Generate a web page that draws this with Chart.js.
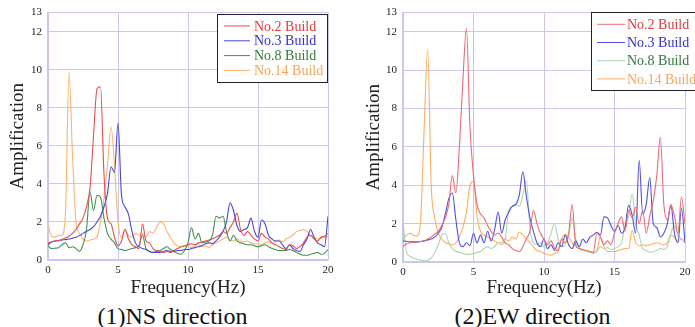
<!DOCTYPE html>
<html>
<head>
<meta charset="utf-8">
<script src="https://cdn.jsdelivr.net/npm/chart.js@4.4.0/dist/chart.umd.min.js"></script>
<style>
body { margin: 0; background: #fff; width: 695px; height: 327px; overflow: hidden; position: relative; font-family: "Liberation Serif", serif; }
.panel { position: absolute; top: 0; width: 345px; height: 300px; }
.caption { position: absolute; top: 304px; width: 345px; font-size: 24px; line-height: 24px; color: #111; text-align: center; }
</style>
</head>
<body>
<div class="panel" style="left:0"><canvas id="nsChart"></canvas></div>
<div class="panel" style="left:350px"><canvas id="ewChart"></canvas></div>
<div class="caption" style="left:0">(1)NS direction</div>
<div class="caption" style="left:360px">(2)EW direction</div>
<script>
// frequency grid (Hz)
const freq = [
  0, 0.25, 0.5, 0.75, 1, 1.25, 1.5, 1.75, 2, 2.25, 2.5, 2.75, 3, 3.25, 3.5, 3.75,
  4, 4.25, 4.5, 4.75, 5, 5.25, 5.5, 5.75, 6, 6.25, 6.5, 6.75, 7, 7.25, 7.5, 7.75,
  8, 8.25, 8.5, 8.75, 9, 9.25, 9.5, 9.75, 10, 10.25, 10.5, 10.75, 11, 11.25, 11.5, 11.75,
  12, 12.25, 12.5, 12.75, 13, 13.25, 13.5, 13.75, 14, 14.25, 14.5, 14.75, 15, 15.25, 15.5, 15.75,
  16, 16.25, 16.5, 16.75, 17, 17.25, 17.5, 17.75, 18, 18.25, 18.5, 18.75, 19, 19.25, 19.5, 19.75,
  20
];
const yTicks = [0, 2, 4, 6, 8, 10, 12, 13];
const builds = ['No.2 Build', 'No.3 Build', 'No.8 Build', 'No.14 Build'];

// (1) NS direction
const ns2 = [
  0.90, 0.95, 1.00, 1.02, 1.08, 1.15, 1.25, 1.40, 1.60, 1.90, 2.20, 2.80, 3.80, 6.50, 9.00, 9.10,
  4.50, 2.20, 1.90, 1.20, 0.75, 1.00, 1.60, 1.10, 0.80, 0.70, 0.60, 1.90, 1.00, 0.90, 0.60, 0.50,
  0.45, 0.40, 0.45, 0.40, 0.50, 0.60, 0.70, 0.75, 0.80, 0.85, 0.80, 0.90, 0.95, 1.00, 1.05, 1.10,
  1.20, 1.30, 1.50, 1.40, 1.70, 2.00, 2.45, 1.60, 1.30, 1.50, 1.30, 1.10, 1.00, 1.40, 1.20, 1.10,
  0.90, 0.80, 0.70, 0.60, 0.55, 0.80, 0.75, 0.60, 0.70, 0.90, 1.20, 1.30, 1.10, 1.00, 1.20, 1.25,
  1.40
];
const ns3 = [
  0.80, 0.95, 1.00, 1.02, 1.05, 1.07, 1.10, 1.15, 1.20, 1.28, 1.40, 1.50, 1.60, 1.75, 2.00, 2.30,
  2.80, 3.50, 4.90, 4.60, 7.20, 3.40, 2.80, 2.40, 1.50, 0.90, 0.70, 0.60, 0.55, 0.45, 0.40, 0.40,
  0.40, 0.45, 0.50, 0.45, 0.45, 0.50, 0.50, 0.55, 0.55, 0.60, 0.65, 0.70, 0.75, 0.85, 0.90, 0.85,
  1.00, 1.20, 1.50, 2.00, 3.00, 2.60, 1.80, 1.50, 1.60, 1.70, 2.20, 1.50, 1.20, 2.10, 1.90, 1.30,
  1.10, 1.00, 1.00, 0.80, 0.60, 0.80, 0.60, 0.50, 0.45, 0.80, 1.10, 1.60, 1.20, 0.90, 0.80, 0.70,
  2.30
];
const ns8 = [
  0.75, 0.60, 0.62, 0.65, 0.80, 0.90, 0.65, 0.70, 0.60, 0.45, 0.80, 1.60, 3.60, 2.60, 3.40, 3.30,
  2.20, 1.40, 1.10, 0.90, 0.60, 0.55, 0.50, 0.55, 0.60, 0.65, 0.75, 1.30, 0.60, 0.45, 0.40, 0.45,
  0.50, 0.60, 0.70, 0.55, 0.45, 0.35, 0.30, 0.50, 0.90, 1.70, 1.10, 1.40, 0.90, 0.95, 1.00, 1.30,
  2.30, 2.20, 2.30, 1.50, 1.00, 1.30, 1.00, 0.90, 0.85, 0.80, 0.80, 0.75, 0.70, 0.75, 0.80, 0.70,
  0.60, 0.55, 0.50, 0.50, 0.50, 0.55, 0.50, 0.40, 0.30, 0.25, 0.25, 0.30, 0.35, 0.40, 0.30, 0.35,
  0.55
];
const ns14 = [
  1.85, 1.25, 1.20, 1.30, 1.30, 2.50, 9.90, 5.50, 2.00, 1.40, 1.10, 1.00, 1.05, 1.10, 1.20, 2.00,
  3.20, 5.00, 7.00, 5.00, 2.00, 1.20, 1.60, 1.30, 1.20, 1.40, 1.30, 1.40, 1.20, 1.50, 1.40, 1.70,
  2.00, 1.90, 1.50, 1.20, 0.90, 0.75, 0.70, 0.75, 0.70, 0.65, 0.75, 0.85, 0.70, 0.75, 0.65, 0.80,
  0.90, 1.00, 1.10, 1.20, 1.05, 1.00, 1.10, 1.00, 0.95, 1.00, 0.90, 0.85, 0.85, 0.80, 0.90, 0.95,
  0.85, 1.00, 1.05, 0.95, 1.10, 1.20, 1.30, 1.50, 1.55, 1.60, 1.50, 1.30, 1.20, 1.10, 1.15, 1.20,
  1.25
];

// (2) EW direction
const ew2 = [
  0.80, 0.95, 1.00, 1.02, 1.05, 1.07, 1.10, 1.20, 1.30, 1.45, 1.60, 1.90, 2.30, 3.00, 4.50, 3.60,
  6.00, 9.50, 12.20, 7.00, 4.50, 3.00, 2.50, 2.30, 1.90, 1.60, 1.40, 1.50, 1.30, 1.00, 0.90, 0.70,
  0.60, 0.55, 0.80, 1.20, 1.60, 2.70, 2.00, 1.50, 1.20, 0.90, 1.10, 0.70, 0.60, 1.20, 1.00, 1.50,
  3.00, 0.90, 0.70, 0.65, 0.60, 0.55, 0.50, 1.50, 1.30, 0.90, 1.10, 0.90, 1.50, 2.00, 2.35, 1.60,
  2.70, 2.30, 2.85, 2.00, 2.70, 1.50, 2.40, 3.20, 4.50, 6.50, 3.00, 2.20, 3.00, 2.40, 1.50, 3.40,
  2.00
];
const ew3 = [
  1.10, 1.08, 1.05, 1.05, 1.05, 1.07, 1.10, 1.15, 1.20, 1.30, 1.50, 1.80, 2.50, 3.30, 3.60, 2.20,
  1.00, 0.80, 1.00, 0.85, 1.50, 1.00, 1.40, 1.00, 1.60, 1.10, 1.70, 2.60, 1.50, 2.20, 2.60, 2.90,
  3.00, 3.50, 4.70, 3.40, 2.30, 1.60, 1.00, 0.80, 1.20, 0.70, 0.90, 0.60, 1.00, 0.80, 1.40, 0.90,
  0.70, 1.10, 0.80, 1.20, 1.00, 1.30, 1.40, 1.55, 1.40, 2.35, 2.30, 1.90, 1.60, 1.90, 1.50, 1.80,
  2.95, 2.45, 1.50, 5.30, 2.50, 3.00, 4.40, 2.00, 1.80, 1.30, 1.50, 2.00, 2.95, 1.50, 1.00, 2.80,
  1.00
];
const ew8 = [
  2.20, 0.50, 0.30, 0.20, 0.15, 0.10, 0.06, 0.08, 0.20, 0.50, 0.90, 1.40, 1.50, 1.00, 0.70, 0.55,
  0.50, 0.45, 0.40, 0.40, 0.45, 0.50, 0.55, 0.70, 0.80, 0.70, 0.80, 1.00, 0.90, 1.20, 2.70, 2.90,
  3.00, 2.90, 3.50, 4.25, 1.80, 1.00, 0.90, 1.00, 0.80, 1.00, 1.50, 2.00, 1.20, 0.80, 0.90, 1.40,
  2.30, 1.20, 0.70, 0.60, 0.55, 0.50, 0.45, 0.55, 0.80, 0.70, 0.75, 0.65, 0.70, 0.80, 1.00, 1.90,
  2.40, 3.55, 2.00, 1.40, 0.70, 0.60, 0.50, 0.55, 0.60, 0.70, 0.65, 0.80, 1.50, 1.90, 1.40, 1.20,
  1.00
];
const ew14 = [
  1.20, 1.40, 1.50, 1.40, 1.35, 2.20, 7.00, 11.10, 4.00, 2.30, 1.50, 1.20, 1.00, 0.95, 0.90, 1.00,
  1.30, 1.80, 2.60, 4.00, 4.20, 2.40, 1.60, 1.40, 1.30, 1.20, 1.10, 1.00, 1.00, 1.20, 1.10, 1.30,
  1.20, 1.55, 1.40, 1.20, 1.00, 0.80, 0.60, 0.55, 0.45, 0.40, 0.35, 0.45, 0.55, 1.20, 1.45, 1.30,
  1.00, 0.80, 0.70, 0.65, 0.60, 0.55, 0.50, 0.60, 1.30, 0.80, 0.55, 0.55, 0.55, 0.60, 0.65, 0.70,
  0.70, 1.65, 1.00, 0.85, 0.90, 0.85, 0.90, 0.95, 1.00, 0.95, 0.90, 1.00, 1.40, 1.30, 1.10, 1.20,
  1.20
];

const legendText = ['#e03a3a', '#3030d0', '#2e7a3a', '#f7a55a'];
const gridColor = 'rgb(200,200,242)';
const serif = '"Liberation Serif", "Times New Roman", serif';

function pts(values) {
  return values.map((v, i) => ({ x: freq[i], y: v }));
}

function line(label, values, color) {
  return {
    label: label,
    data: pts(values),
    borderColor: color,
    borderWidth: 1.1,
    pointRadius: 0,
    fill: false,
    cubicInterpolationMode: 'monotone'
  };
}

// legend with a black frame inside the plot
const boxLegend = {
  id: 'boxLegend',
  afterDatasetsDraw(chart, args, o) {
    const ctx = chart.ctx;
    ctx.save();
    ctx.fillStyle = '#fff';
    ctx.fillRect(o.x, o.y, o.w, o.h);
    ctx.strokeStyle = '#222';
    ctx.lineWidth = 1;
    ctx.strokeRect(o.x + 0.5, o.y + 0.5, o.w, o.h);
    ctx.font = '14px ' + serif;
    ctx.textBaseline = 'middle';
    chart.data.datasets.forEach((ds, i) => {
      const yy = o.y + o.first + i * o.step;
      ctx.strokeStyle = ds.borderColor;
      ctx.beginPath();
      ctx.moveTo(o.x + o.lineX, yy);
      ctx.lineTo(o.x + o.lineX + o.lineW, yy);
      ctx.stroke();
      ctx.fillStyle = legendText[i];
      ctx.fillText(ds.label, o.x + o.textX, yy + 1);
    });
    ctx.restore();
  }
};

function makePanel(canvas, sets, yWidth, xHeight, padTop, padRight, yTitlePad, legendBox) {
  return new Chart(canvas, {
    type: 'line',
    data: { datasets: sets },
    plugins: [boxLegend],
    options: {
      responsive: true,
      maintainAspectRatio: false,
      animation: false,
      layout: { padding: { top: padTop, right: padRight, left: 0, bottom: 0 } },
      plugins: {
        legend: { display: false },
        tooltip: { enabled: false },
        boxLegend: legendBox
      },
      scales: {
        x: {
          type: 'linear',
          min: 0,
          max: 20,
          afterFit: s => { s.height = xHeight; },
          ticks: { stepSize: 5, padding: 4, color: '#222', font: { family: serif, size: 11 }, maxRotation: 0 },
          grid: { color: gridColor, drawTicks: false },
          border: { color: gridColor, width: 1.5 },
          title: { display: true, text: 'Frequency(Hz)', color: '#222', font: { family: serif, size: 19 }, padding: { top: 0, bottom: 1 } }
        },
        y: {
          min: 0,
          max: 13,
          afterFit: s => { s.width = yWidth; },
          afterBuildTicks: s => { s.ticks = yTicks.map(v => ({ value: v })); },
          ticks: { padding: 6, color: '#222', font: { family: serif, size: 11 } },
          grid: { color: gridColor, drawTicks: false },
          border: { color: gridColor, width: 1.5 },
          title: { display: true, text: 'Amplification', color: '#222', font: { family: serif, size: 19 }, padding: { top: yTitlePad, bottom: 0 } }
        }
      }
    }
  });
}

const nsChart = makePanel(document.getElementById('nsChart'), [
  line(builds[0], ns2, 'rgb(232,78,78)'),
  line(builds[1], ns3, 'rgb(70,70,222)'),
  line(builds[2], ns8, 'rgb(70,145,80)'),
  line(builds[3], ns14, 'rgb(255,180,110)')
], 48, 40, 12, 17, 7, { x: 217, y: 14, w: 110, h: 68, lineX: 7, lineW: 26, textX: 37, first: 12, step: 14.8 });

const ewChart = makePanel(document.getElementById('ewChart'), [
  line(builds[0], ew2, 'rgb(238,105,115)'),
  line(builds[1], ew3, 'rgb(80,80,225)'),
  line(builds[2], ew8, 'rgb(175,212,175)'),
  line(builds[3], ew14, 'rgb(255,175,95)')
], 53, 38, 12, 10, 13, { x: 241, y: 12, w: 120, h: 78, lineX: 6, lineW: 28, textX: 36, first: 12.3, step: 18.2 });
</script>
</body>
</html>
